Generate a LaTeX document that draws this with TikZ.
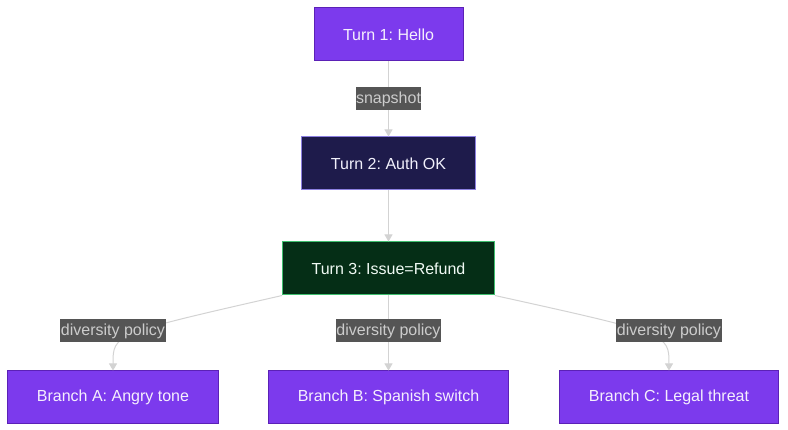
\documentclass[tikz,border=0pt]{standalone}
\usepackage{fontspec}
\setmainfont{Liberation Sans}
\usepackage{tikz}
\usetikzlibrary{arrows.meta,positioning}
\frenchspacing

\definecolor{turnpurple}{HTML}{7C3AED}
\definecolor{turnedge}{HTML}{5B21B6}
\definecolor{authfill}{HTML}{1E1B4B}
\definecolor{authedge}{HTML}{8B7FE0}
\definecolor{issuefill}{HTML}{052E16}
\definecolor{issueedge}{HTML}{3FBF6F}
\definecolor{linkgray}{HTML}{D3D3D3}
\definecolor{tagfill}{HTML}{555555}
\definecolor{tagtext}{HTML}{CCCCCC}

\begin{document}
\begin{tikzpicture}[
  x=1pt, y=1pt,
  font=\fontsize{16}{19}\selectfont, node distance=75pt and 50pt,
  turn/.style={draw=turnedge, line width=1pt, fill=turnpurple, text=white!92!turnpurple, minimum height=53pt, inner xsep=29pt},
  auth/.style={turn, draw=authedge, fill=authfill, text=white!88!authedge},
  issue/.style={turn, draw=issueedge, fill=issuefill, text=white!92!issueedge},
  branch/.style={turn},
  tag/.style={fill=tagfill, text=tagtext, inner xsep=0.5pt, inner ysep=0pt, minimum height=23pt},
  arrow/.style={draw=linkgray, line width=1pt, -{Triangle[length=7pt,width=8pt]}}
]
\useasboundingbox (0,0) rectangle (788,-430);
\node[turn] (hello) at (388.5,-34.5) {Turn 1: Hello};
\node[auth, below=of hello] (auth) {Turn 2: Auth OK};
\node[issue, below=51pt of auth] (refund) {Turn 3: Issue=Refund};
\node[branch, below=of refund] (spanish) {Branch B: Spanish switch};
\node[branch] (angry) at (113,0 |- spanish) {Branch A: Angry tone};
\node[branch] (legal) at (669,0 |- spanish) {Branch C: Legal threat};
\draw[arrow] (hello) -- node[tag] (snap) {snapshot} (auth);
\draw[arrow] (auth) -- (refund);
\draw[arrow] (refund.south west) .. controls (113,-334) .. (angry.north);
\draw[arrow] (refund.south east) .. controls (669,-334) .. (legal.north);
\draw[arrow] (refund) -- (spanish);
\node[tag] (polA) at (113,-331) {diversity policy};
\node[tag] (polB) at (388.5,-331) {diversity policy};
\node[tag] (polC) at (669,-331) {diversity policy};
\end{tikzpicture}
\end{document}
